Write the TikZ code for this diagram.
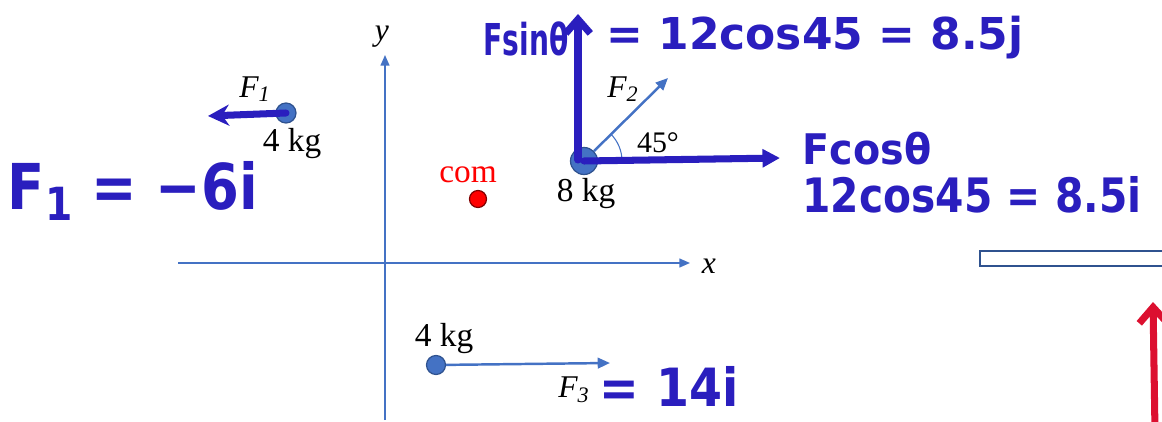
\documentclass[tikz,border=0pt]{standalone}
\usepackage{fontspec}
\setmainfont{Liberation Serif}
\newfontfamily\handfont{DejaVu Sans}
\usetikzlibrary{arrows.meta}
\definecolor{axisblue}{HTML}{4472C4}
\definecolor{massedge}{HTML}{2F528F}
\definecolor{handblue}{RGB}{42,30,190}
\definecolor{handred}{RGB}{220,16,48}
\definecolor{comred}{RGB}{255,0,0}
\begin{document}
\begin{tikzpicture}[x=0.02cm,y=-0.02cm,
  axisline/.style={axisblue, line width=0.9pt, -{Triangle[length=6pt,width=5pt]}},
  forcearrow/.style={axisblue, line width=1.4pt, -{Triangle[length=7pt,width=6pt]}},
  mass/.style={circle, fill=axisblue, draw=massedge, line width=0.7pt, inner sep=0pt},
  lbl/.style={font=\fontsize{19}{22}\selectfont, inner sep=0pt},
  hand/.style={handblue, line width=4pt, line cap=round},
  handtext/.style={text=handblue, font=\handfont\bfseries, inner sep=0pt}]
\useasboundingbox (0,0) rectangle (1162,422);

% axes
\coordinate (yb) at (385,420);
\coordinate (yt) at (385,55);
\coordinate (xl) at (178,263);
\coordinate (xr) at (690,263);
\draw[axisline] (yb) -- (yt);
\draw[axisline] (xl) -- (xr);
\node[lbl, font=\fontsize{18}{20}\selectfont\itshape] (ylab) at (382,37) {y};
\node[lbl, font=\fontsize{18}{20}\selectfont\itshape] (xlab) at (709,266) {x};

% mass 1
\node[mass, minimum size=0.4cm] (m1) at (286,113) {};
\node[lbl] (m1lab) at (292,144) {4 kg};
\node[lbl, font=\fontsize{18}{20}\selectfont\itshape] (f1lab) at (255,89) {F\textsubscript{1}};
\coordinate (f1tip) at (208,116);
\draw[hand, -{Stealth[length=12pt,width=12pt]}] (m1.center) -- (f1tip);
\node[handtext] (f1eq) at (133,191) {\fontsize{36}{40}\selectfont\scalebox{0.86}[1]{F\raisebox{-0.3ex}{\fontsize{26}{30}\selectfont 1} = −6i}};

% com
\node[mass, fill=comred, draw=red!50!black, minimum size=0.34cm] (com) at (478,199) {};
\node[lbl, text=comred] (comlab) at (468,175) {com};

% mass 2
\node[mass, minimum size=0.54cm] (m2) at (584,161) {};
\node[lbl] (m2lab) at (586,194) {8 kg};
\coordinate (f2tip) at (668,78);
\draw[forcearrow] (m2) -- (f2tip);
\node[lbl, font=\fontsize{18}{20}\selectfont\itshape] (f2lab) at (623,89) {F\textsubscript{2}};
\draw[axisblue, line width=0.6pt] ([xshift=0.76cm]m2.center) arc[start angle=0, end angle=45, radius=0.76cm];
\node[lbl, font=\fontsize{17}{20}\selectfont] (anglab) at (658,143) {45°};

% components
\coordinate (vbase) at (578,160);
\coordinate (vtip) at (578,14);
\coordinate (htip) at (780,158);
\draw[hand, -{Straight Barb[length=8pt,width=14pt]}] (vbase) -- (vtip);
\draw[hand, -{Triangle[length=10pt,width=10pt]}] (m2.center) -- (htip);
\node[handtext] (fsin) at (526,39) {\fontsize{25}{30}\selectfont\scalebox{0.64}[1]{Fsinθ}};
\node[handtext] (fsineq) at (815,38) {\fontsize{25}{30}\selectfont = 12cos45 = 8.5j};
\node[handtext] (fcos) at (867,149) {\fontsize{24}{30}\selectfont\scalebox{0.94}[1]{Fcosθ}};
\node[handtext] (fcoseq) at (972,195) {\fontsize{27}{32}\selectfont\scalebox{0.86}[1]{12cos45 = 8.5i}};

% mass 3
\node[mass, minimum size=0.38cm] (m3) at (436,365) {};
\node[lbl] (m3lab) at (444,339) {4 kg};
\coordinate (f3tip) at (610,363);
\draw[forcearrow] (m3) -- (f3tip);
\node[lbl, font=\fontsize{18}{20}\selectfont\itshape] (f3lab) at (574,390) {F\textsubscript{3}};
\node[handtext] (f3eq) at (669,386) {\fontsize{30}{34}\selectfont\scalebox{0.9}[1]{= 14i}};

% right side
\coordinate (ra) at (980,251);
\coordinate (rb) at (1175,266);
\draw[massedge, line width=1.2pt] (ra) rectangle (rb);
\coordinate (redb) at (1155,432);
\coordinate (redt) at (1153,302);
\draw[handred, line width=4pt, line cap=round, -{Straight Barb[length=9pt,width=16pt]}] (redb) -- (redt);
\end{tikzpicture}
\end{document}
